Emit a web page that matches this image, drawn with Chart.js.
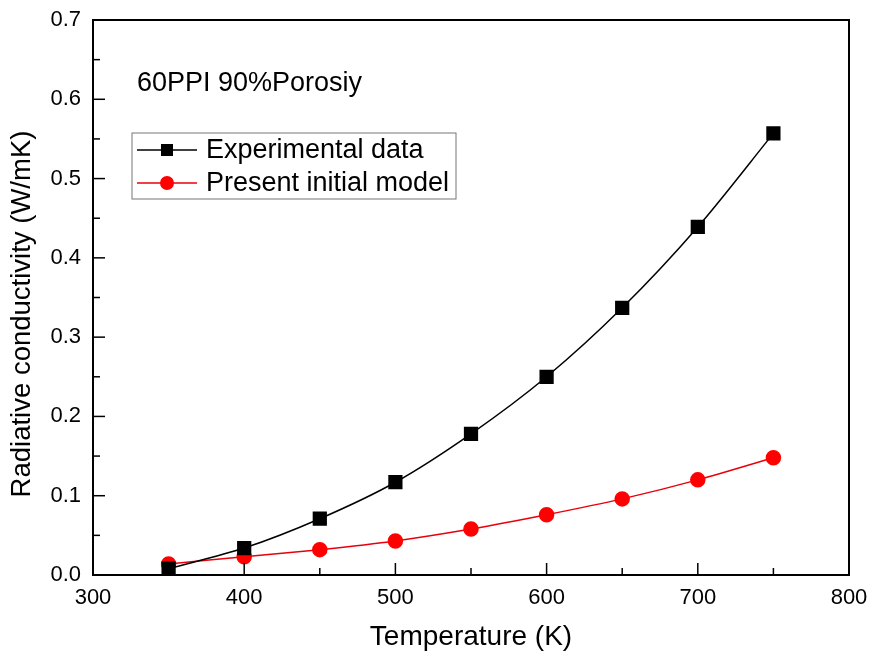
<!DOCTYPE html>
<html lang="en">
<head>
  <meta charset="UTF-8">
  <title>Radiative conductivity</title>
  <script src="https://cdn.jsdelivr.net/npm/chart.js"></script>
  <style>
    html, body { margin: 0; padding: 0; background: #fff; }
    .grafico { width: 871px; height: 658px; }
  </style>
</head>
<body>
  <div class="grafico">
    <canvas id="graficoCondutividade" width="871" height="658"></canvas>
  </div>

  <script>
    // dados
    const temperaturas = [350, 400, 450, 500, 550, 600, 650, 700, 750];
    const dadosExperimentais = [0.008, 0.034, 0.071, 0.117, 0.178, 0.250, 0.337, 0.439, 0.557];
    const modeloInicial = [0.014, 0.023, 0.032, 0.043, 0.058, 0.076, 0.096, 0.120, 0.148];
    const rotuloSerie1 = 'Experimental data';
    const rotuloSerie2 = 'Present initial model';
    const anotacao = '60PPI 90%Porosiy';
    const tituloY = 'Radiative conductivity (W/mK)';
    const tituloX = 'Temperature (K)';

    const fonte = '"Liberation Sans", Arial, sans-serif';

    // moldura, ticks para dentro, título Y, legenda e anotação
    const moldura = {
      id: 'moldura',
      afterDraw(chart) {
        const { ctx, chartArea: a, scales } = chart;
        ctx.save();
        ctx.strokeStyle = '#000';
        ctx.lineWidth = 2;
        ctx.strokeRect(a.left, a.top, a.right - a.left, a.bottom - a.top);

        ctx.lineWidth = 1.5;
        scales.x.ticks.forEach(t => {
          const px = scales.x.getPixelForValue(t.value);
          const len = t.value % 100 === 0 ? 12 : 7;
          ctx.beginPath();
          ctx.moveTo(px, a.bottom);
          ctx.lineTo(px, a.bottom - len);
          ctx.stroke();
        });
        scales.y.ticks.forEach(t => {
          const py = scales.y.getPixelForValue(t.value);
          const maior = Math.abs(t.value * 10 - Math.round(t.value * 10)) < 1e-6;
          ctx.beginPath();
          ctx.moveTo(a.left, py);
          ctx.lineTo(a.left + (maior ? 12 : 7), py);
          ctx.stroke();
        });

        // título do eixo Y (um pouco abaixo do centro, como no original)
        ctx.fillStyle = '#000';
        ctx.save();
        ctx.translate(22, 314);
        ctx.rotate(-Math.PI / 2);
        ctx.font = '27.5px ' + fonte;
        ctx.textAlign = 'center';
        ctx.textBaseline = 'middle';
        ctx.fillText(tituloY, 0, 0);
        ctx.restore();

        // anotação
        ctx.font = '27px ' + fonte;
        ctx.textBaseline = 'middle';
        ctx.textAlign = 'left';
        ctx.fillText(anotacao, 137, 84);

        // legenda
        const bx = 132, by = 133, bw = 324, bh = 66;
        ctx.lineWidth = 1;
        ctx.strokeStyle = '#777';
        ctx.strokeRect(bx, by, bw, bh);
        chart.data.datasets.forEach((ds, i) => {
          const y = by + 17 + i * 33;
          ctx.strokeStyle = ds.borderColor;
          ctx.lineWidth = 1.5;
          ctx.beginPath();
          ctx.moveTo(bx + 5, y);
          ctx.lineTo(bx + 65, y);
          ctx.stroke();
          ctx.fillStyle = ds.pointBackgroundColor;
          if (ds.pointStyle === 'rect') {
            ctx.fillRect(bx + 29, y - 6, 12, 12);
          } else {
            ctx.beginPath();
            ctx.arc(bx + 35, y, 7, 0, Math.PI * 2);
            ctx.fill();
          }
          ctx.fillStyle = '#000';
          ctx.font = '27px ' + fonte;
          ctx.fillText(ds.label, bx + 74, y + 1);
        });
        ctx.restore();
      }
    };

    const ctxGrafico = document.getElementById('graficoCondutividade');
    new Chart(ctxGrafico, {
      type: 'line',
      data: {
        labels: temperaturas,
        datasets: [{
          label: rotuloSerie1,
          data: temperaturas.map((t, i) => ({ x: t, y: dadosExperimentais[i] })),
          borderColor: '#000',
          backgroundColor: '#000',
          pointBackgroundColor: '#000',
          pointBorderColor: '#000',
          pointStyle: 'rect',
          pointRadius: 9,
          borderWidth: 1.5,
          tension: 0.3
        }, {
          label: rotuloSerie2,
          data: temperaturas.map((t, i) => ({ x: t, y: modeloInicial[i] })),
          borderColor: '#e8000b',
          backgroundColor: '#ff0000',
          pointBackgroundColor: '#ff0000',
          pointBorderColor: '#ff0000',
          pointStyle: 'circle',
          pointRadius: 7,
          borderWidth: 1.5,
          tension: 0.3
        }]
      },
      options: {
        responsive: false,
        animation: false,
        layout: { padding: { top: 20, right: 22, left: 0, bottom: 0 } },
        plugins: {
          legend: { display: false },
          tooltip: { enabled: false }
        },
        scales: {
          x: {
            type: 'linear',
            min: 300,
            max: 800,
            grid: { display: false },
            border: { display: false },
            ticks: {
              stepSize: 50,
              color: '#000',
              font: { family: fonte, size: 22 },
              padding: 2,
              maxRotation: 0,
              autoSkip: false,
              callback: v => (v % 100 === 0 ? v : '')
            },
            title: {
              display: true,
              text: tituloX,
              color: '#000',
              font: { family: fonte, size: 28 },
              padding: { top: 6 }
            },
            afterFit: s => { s.height = 83; }
          },
          y: {
            min: 0,
            max: 0.7,
            grid: { display: false },
            border: { display: false },
            ticks: {
              stepSize: 0.05,
              color: '#000',
              font: { family: fonte, size: 22 },
              padding: 4,
              autoSkip: false,
              callback: v => {
                const r = Math.round(v * 100);
                return r % 10 === 0 ? (r / 100).toFixed(1) : '';
              }
            },
            title: { display: false },
            afterFit: s => { s.width = 93; }
          }
        }
      },
      plugins: [moldura]
    });
  </script>
</body>
</html>
